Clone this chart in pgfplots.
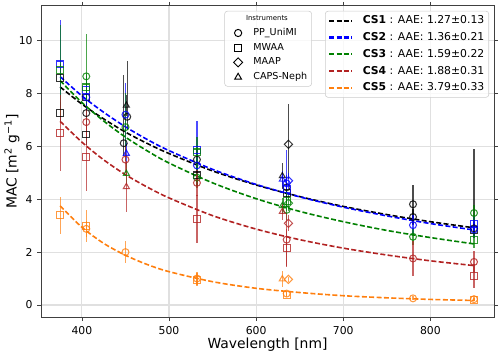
\documentclass[border=0pt]{standalone}
\usepackage{fontspec}
\setmainfont{DejaVu Sans}
\usepackage{pgfplots}
\pgfplotsset{compat=1.18}

\definecolor{cgreen}{RGB}{0,128,0}
\definecolor{cred}{RGB}{178,34,34}
\definecolor{corange}{RGB}{255,127,14}

% open markers with vertical error bars (asymmetric: ep up, em down)
\pgfplotsset{
  pts/.style={only marks, forget plot, mark size=2.5pt,
    mark options={draw=#1, fill=none, line width=0.75pt, draw opacity=0.8},
    error bars/y dir=both, error bars/y explicit, error bars/error mark=none,
    error bars/error bar style={draw=#1, line width=0.9pt, opacity=0.7}},
  dia/.style={mark=square, mark size=2.1pt,
    mark options={draw=#1, fill=none, line width=0.75pt, draw opacity=0.8, rotate=45}},
  fit/.style={no marks, smooth, draw=#1, line width=1.15pt, dash pattern=on 3.6pt off 1.7pt},
}

\begin{document}
\begin{tikzpicture}
\begin{axis}[
    name=main, scale only axis, width=326.2pt, height=224.9pt,
    xmin=353, xmax=873, ymin=-0.48, ymax=11.34,
    xtick={400,500,600,700,800}, ytick={0,2,4,6,8,10},
    grid=major, grid style={black!12, line width=0.8pt},
    axis line style={black!75, line width=0.6pt},
    tick style={black!75, line width=0.6pt}, tick align=outside, major tick length=2.5pt,
    ticklabel style={font=\fontsize{7.8}{9}\selectfont},
    /pgf/number format/assume math mode=true,
    xlabel={Wavelength [nm]},
    ylabel={MAC [m\textsuperscript{2} g\textsuperscript{−1}]},
    label style={font=\fontsize{10}{12}\selectfont},
    xlabel style={at={(axis description cs:0.5,-0.0876)}, anchor=center},
    ylabel style={at={(axis description cs:-0.064,0.5)}, anchor=center},
    legend style={at={(rel axis cs:0.989,0.982)}, anchor=north east,
      draw=black!20, rounded corners=2pt, fill=white, fill opacity=0.8, text opacity=1,
      font=\fontsize{7.8}{9}\selectfont, inner sep=2pt, row sep=2.4pt,
      nodes={inner sep=1.2pt}},
    legend cell align=left,
    legend image code/.code={\draw[#1, line width=1.5pt] (0cm,0cm) -- (0.56cm,0cm); \path (0.56cm+6.5pt,0cm);},
]
\coordinate (bl) at (rel axis cs:0,0);
\coordinate (tr) at (rel axis cs:1,1);

% ---------------- CS1 ----------------
\addplot[pts=black, mark=square] table[y error plus=ep, y error minus=em] {
x y ep em
375 8.60 0.5 0.5
375 7.28 0.4 0.4
405 7.85 0.5 0.5
405 6.45 0.4 0.4
532 4.90 0.4 0.4
635 4.25 0.4 0.4
850 2.83 0.3 0.3
};
\addplot[pts=black, mark=o] table[y error plus=ep, y error minus=em] {
x y ep em
405 7.26 0.4 0.4
452 7.12 2.13 0.5
448 6.12 2.58 0.5
532 5.50 0.4 0.4
635 4.45 0.4 0.3
780 3.81 0.74 0.74
780 3.33 0.3 0.3
850 2.90 3.0 0.3
};
\addplot[pts=black, mark=triangle] table[y error plus=ep, y error minus=em] {
x y ep em
451 7.55 0.4 0.4
630 4.88 0.5 0.5
};
\addplot[pts=black, dia=black] table[y error plus=ep, y error minus=em] {
x y ep em
637 6.08 1.52 1.3
};
\addplot[fit=black] coordinates {(375,8.25) (400,7.60) (425,7.04) (450,6.54) (475,6.11) (500,5.73) (550,5.07) (600,4.54) (650,4.10) (700,3.73) (750,3.42) (800,3.15) (850,2.92)};
\addlegendentry{\textbf{CS1} : AAE: 1.27±0.13}

% ---------------- CS2 ----------------
\addplot[pts=blue, mark=square] table[y error plus=ep, y error minus=em] {
x y ep em
375 9.10 1.7 1.7
405 8.15 0.5 0.5
532 5.85 1.1 1.1
635 4.40 0.5 0.5
850 3.05 0.3 0.3
};
\addplot[pts=blue, mark=o] table[y error plus=ep, y error minus=em] {
x y ep em
405 7.86 0.5 0.5
450 7.20 1.2 1.5
532 5.28 0.5 0.5
635 4.60 1.25 0.5
780 3.02 0.4 0.4
850 2.85 0.3 0.3
};
\addplot[pts=blue, mark=triangle] table[y error plus=ep, y error minus=em] {
x y ep em
451 5.73 0.4 0.4
630 4.75 0.3 0.3
};
\addplot[pts=blue, dia=blue] table[y error plus=ep, y error minus=em] {
x y ep em
637 4.70 0.3 0.3
};
\addplot[fit=blue] coordinates {(375,8.64) (400,7.91) (425,7.29) (450,6.74) (475,6.26) (500,5.84) (550,5.13) (600,4.56) (650,4.09) (700,3.70) (750,3.37) (800,3.08) (850,2.84)};
\addlegendentry{\textbf{CS2} : AAE: 1.36±0.21}

% ---------------- CS3 ----------------
\addplot[pts=cgreen, mark=square] table[y error plus=ep, y error minus=em] {
x y ep em
375 8.88 1.72 1.72
405 8.23 0.5 0.5
532 5.77 0.6 0.6
635 3.95 0.4 0.4
850 2.45 0.3 0.3
};
\addplot[pts=cgreen, mark=o] table[y error plus=ep, y error minus=em] {
x y ep em
405 8.65 1.62 1.0
450 6.73 1.3 1.3
532 4.82 0.4 0.4
635 3.60 0.4 0.4
780 2.58 0.3 0.3
850 3.48 0.3 0.3
};
\addplot[pts=cgreen, mark=triangle] table[y error plus=ep, y error minus=em] {
x y ep em
451 4.97 0.4 0.4
630 3.75 0.3 0.3
};
\addplot[pts=cgreen, dia=cgreen] table[y error plus=ep, y error minus=em] {
x y ep em
637 3.85 0.3 0.3
};
\addplot[fit=cgreen] coordinates {(375,8.49) (400,7.66) (425,6.96) (450,6.35) (475,5.83) (500,5.37) (550,4.62) (600,4.02) (650,3.54) (700,3.15) (750,2.82) (800,2.55) (850,2.31)};
\addlegendentry{\textbf{CS3} : AAE: 1.59±0.22}

% ---------------- CS4 ----------------
\addplot[pts=cred, mark=square] table[y error plus=ep, y error minus=em] {
x y ep em
375 6.50 1.45 1.45
405 5.60 1.3 1.3
532 3.25 0.9 0.9
635 2.15 0.73 0.73
850 1.09 0.45 0.45
};
\addplot[pts=cred, mark=o] table[y error plus=ep, y error minus=em] {
x y ep em
405 6.92 0.5 0.5
450 5.50 0.5 0.5
532 4.62 0.5 0.5
635 2.47 1.0 1.0
780 1.76 0.67 0.67
850 1.63 0.4 0.4
};
\addplot[pts=cred, mark=triangle] table[y error plus=ep, y error minus=em] {
x y ep em
451 4.47 0.97 0.97
630 3.53 0.3 0.3
};
\addplot[pts=cred, dia=cred] table[y error plus=ep, y error minus=em] {
x y ep em
637 3.09 0.3 0.3
};
\addplot[fit=cred] coordinates {(375,6.95) (400,6.16) (425,5.49) (450,4.93) (475,4.46) (500,4.05) (550,3.38) (600,2.87) (650,2.47) (700,2.15) (750,1.89) (800,1.67) (850,1.49)};
\addlegendentry{\textbf{CS4} : AAE: 1.88±0.31}

% ---------------- CS5 ----------------
\addplot[pts=corange, mark=square] table[y error plus=ep, y error minus=em] {
x y ep em
375 3.40 0.7 0.7
405 3.00 0.6 0.6
532 0.95 0.25 0.25
635 0.39 0.1 0.1
850 0.20 0.05 0.05
};
\addplot[pts=corange, mark=o] table[y error plus=ep, y error minus=em] {
x y ep em
405 2.88 0.3 0.3
450 2.00 0.43 0.43
532 1.00 0.25 0.25
635 0.43 0.1 0.1
780 0.25 0.08 0.08
850 0.22 0.08 0.08
};
\addplot[pts=corange, mark=triangle] table[y error plus=ep, y error minus=em] {
x y ep em
630 0.98 0.3 0.3
};
\addplot[pts=corange, dia=corange] table[y error plus=ep, y error minus=em] {
x y ep em
637 0.97 0.1 0.1
};
\addplot[fit=corange] coordinates {(375,3.75) (400,2.94) (425,2.33) (450,1.88) (475,1.53) (500,1.26) (550,0.88) (600,0.63) (650,0.47) (700,0.35) (750,0.27) (800,0.21) (850,0.17)};
\addlegendentry{\textbf{CS5} : AAE: 3.79±0.33}
\end{axis}

% second, hidden axis only for the instruments legend
\begin{axis}[
    scale only axis, width=326.2pt, height=224.9pt,
    hide axis, xmin=0, xmax=1, ymin=0, ymax=1,
    legend style={at={(rel axis cs:0.598,0.982)}, anchor=north east,
      draw=black!20, rounded corners=2pt, fill=white, fill opacity=0.8, text opacity=1,
      font=\fontsize{6.9}{8}\selectfont, inner sep=2pt, row sep=1.6pt,
      nodes={inner sep=1.2pt}},
    legend cell align=left,
    legend image code/.code={\draw[#1] plot coordinates {(0cm,0cm)}; \path (-7.5pt,0cm) (9.6pt,0cm);},
]
\addlegendimage{empty legend}
\addlegendentry{\hspace*{-5.3pt}\fontsize{5}{6}\selectfont Instruments}
\addlegendimage{only marks, mark=o, mark size=2.6pt, mark options={draw=black, line width=0.7pt}}
\addlegendentry{PP\_UniMI}
\addlegendimage{only marks, mark=square, mark size=2.6pt, mark options={draw=black, line width=0.7pt}}
\addlegendentry{MWAA}
\addlegendimage{only marks, mark=square, mark size=2.3pt, mark options={draw=black, line width=0.7pt, rotate=45}}
\addlegendentry{MAAP}
\addlegendimage{only marks, mark=triangle, mark size=2.8pt, mark options={draw=black, line width=0.7pt}}
\addlegendentry{CAPS-Neph}
\end{axis}

\pgfresetboundingbox
\path[use as bounding box] ([xshift=-29.5pt,yshift=-27.8pt]bl) rectangle ([xshift=4.3pt,yshift=3.8pt]tr);
\end{tikzpicture}
\end{document}
